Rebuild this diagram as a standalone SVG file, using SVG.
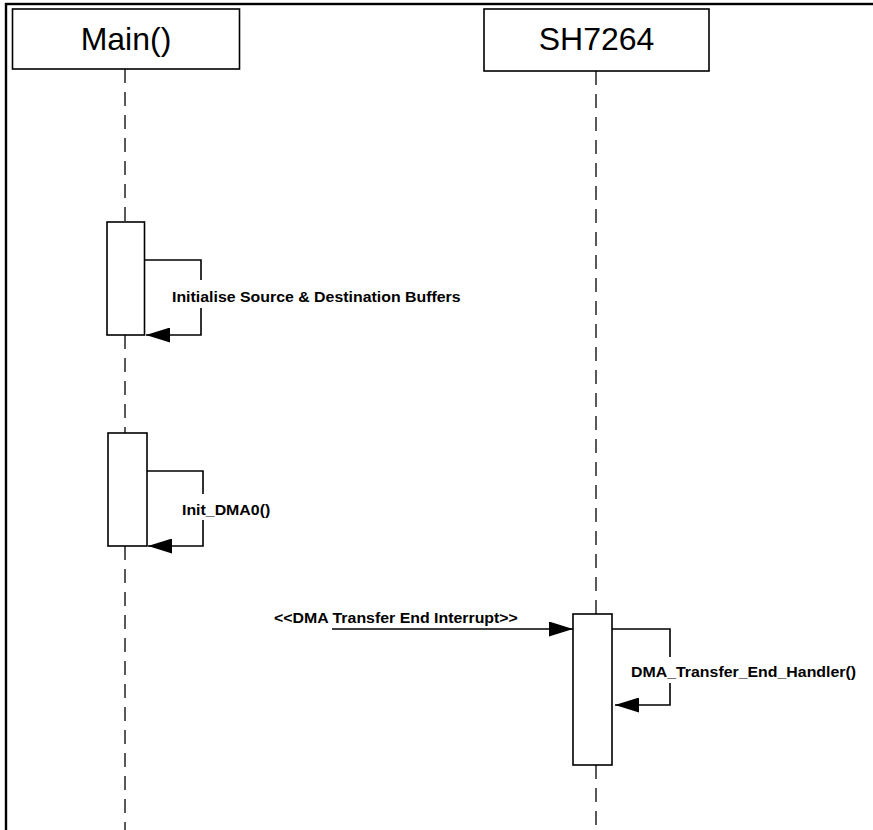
<svg xmlns="http://www.w3.org/2000/svg" width="873" height="830" viewBox="0 0 873 830">
<defs>
<style>
.frame{fill:none;stroke:#000;stroke-width:2.4}
.box{fill:#fff;stroke:#000;stroke-width:1.6}
.act{fill:#fff;stroke:#000;stroke-width:1.6}
.life{fill:none;stroke:#000;stroke-width:1.3;stroke-dasharray:14 9}
.msg{fill:none;stroke:#000;stroke-width:1.6}
.title{font-family:"Liberation Sans",Arial,sans-serif;font-size:32px;fill:#000;text-anchor:middle}
.lbl{font-family:"Liberation Sans",Arial,sans-serif;font-size:14px;font-weight:bold;fill:#000}
.lblbg{fill:#fff}
</style>
<marker id="ah" markerWidth="24" markerHeight="15" refX="24" refY="7.5" orient="auto" markerUnits="userSpaceOnUse">
<path d="M0,0 L24,7.5 L0,15 Z" fill="#000"/>
</marker>
</defs>
<rect x="0" y="0" width="873" height="830" fill="#fff"/>
<rect class="frame" x="6" y="4" width="900" height="900"/>
<g id="lifelines">
<line class="life" x1="125" y1="69" x2="125" y2="222"/>
<line class="life" x1="125" y1="335" x2="125" y2="433"/>
<line class="life" x1="125" y1="546" x2="125" y2="830"/>
<line class="life" x1="596" y1="71" x2="596" y2="614"/>
<line class="life" x1="596" y1="765" x2="596" y2="830"/>
</g>
<g id="main">
<rect class="box" x="12.5" y="9" width="227" height="60"/>
<text class="title" x="126" y="50">Main()</text>
</g>
<g id="sh7264">
<rect class="box" x="484" y="9" width="225" height="62"/>
<text class="title" x="596.5" y="50">SH7264</text>
</g>
<g id="act1"><rect class="act" x="107" y="222" width="37.5" height="113"/></g>
<g id="act2"><rect class="act" x="108" y="433" width="39" height="113"/></g>
<g id="act3"><rect class="act" x="573" y="614" width="39" height="151"/></g>
<g id="connectors">
<polyline class="msg" points="144.5,260 201,260 201,335 146,335" marker-end="url(#ah)"/>
<rect class="lblbg" x="170" y="280" width="293" height="28"/>
<text class="lbl" transform="translate(172,302) scale(1.135,1)">Initialise Source &amp; Destination Buffers</text>
<polyline class="msg" points="147,471 203,471 203,546 148,546" marker-end="url(#ah)"/>
<rect class="lblbg" x="180" y="494" width="92" height="26"/>
<text class="lbl" transform="translate(182,515) scale(1.135,1)">Init_DMA0()</text>
<line class="msg" x1="332" y1="629" x2="573" y2="629" marker-end="url(#ah)"/>
<text class="lbl" transform="translate(274,623) scale(1.135,1)">&lt;&lt;DMA Transfer End Interrupt&gt;&gt;</text>
<polyline class="msg" points="612,629 670,629 670,705 615,705" marker-end="url(#ah)"/>
<rect class="lblbg" x="629" y="657" width="229" height="26"/>
<text class="lbl" transform="translate(631,677) scale(1.135,1)">DMA_Transfer_End_Handler()</text>
</g>
</svg>
